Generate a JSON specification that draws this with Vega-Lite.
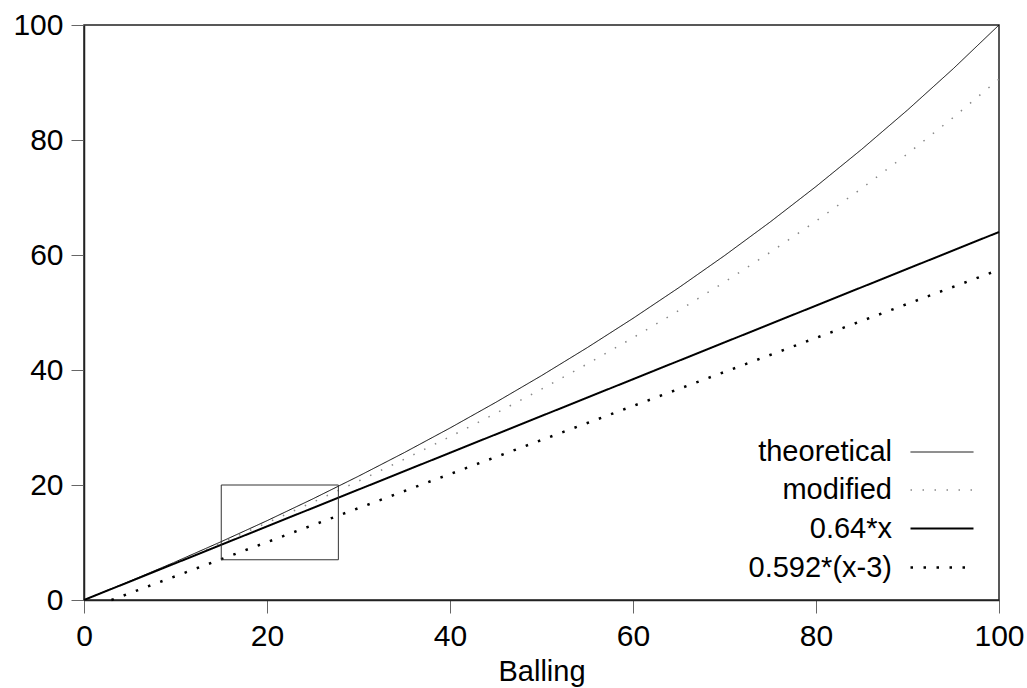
{
  "$schema": "https://vega.github.io/schema/vega-lite/v6.json",
  "width": 915,
  "height": 575,
  "autosize": "none",
  "padding": {"left": 84, "top": 25, "right": 28, "bottom": 88},
  "config": {
    "font": "Liberation Sans",
    "view": {"stroke": "#222", "strokeWidth": 1.5},
    "axis": {
      "labelFontSize": 30, "labelColor": "#000", "titleFontSize": 29, "titleColor": "#000",
      "titleFontWeight": "normal", "domainColor": "#222", "domainWidth": 1.5,
      "tickColor": "#666", "tickSize": 13, "grid": false, "labelPadding": 8
    }
  },
  "layer": [
    {
      "data": {"values": [
        {"b": 0, "v": 0, "s": "theoretical"}, {"b": 5, "v": 3.26, "s": "theoretical"}, {"b": 10, "v": 6.64, "s": "theoretical"},
        {"b": 15, "v": 10.15, "s": "theoretical"}, {"b": 20, "v": 13.79, "s": "theoretical"}, {"b": 25, "v": 17.58, "s": "theoretical"},
        {"b": 30, "v": 21.53, "s": "theoretical"}, {"b": 35, "v": 25.63, "s": "theoretical"}, {"b": 40, "v": 29.91, "s": "theoretical"},
        {"b": 45, "v": 34.37, "s": "theoretical"}, {"b": 50, "v": 39.02, "s": "theoretical"}, {"b": 55, "v": 43.89, "s": "theoretical"},
        {"b": 60, "v": 48.98, "s": "theoretical"}, {"b": 65, "v": 54.31, "s": "theoretical"}, {"b": 70, "v": 59.89, "s": "theoretical"},
        {"b": 75, "v": 65.75, "s": "theoretical"}, {"b": 80, "v": 71.91, "s": "theoretical"}, {"b": 85, "v": 78.39, "s": "theoretical"},
        {"b": 90, "v": 85.21, "s": "theoretical"}, {"b": 95, "v": 92.4, "s": "theoretical"}, {"b": 100, "v": 100, "s": "theoretical"},
        {"b": 0, "v": 0, "s": "modified"}, {"b": 5, "v": 3.24, "s": "modified"}, {"b": 10, "v": 6.55, "s": "modified"},
        {"b": 15, "v": 9.94, "s": "modified"}, {"b": 20, "v": 13.42, "s": "modified"}, {"b": 25, "v": 16.99, "s": "modified"},
        {"b": 30, "v": 20.68, "s": "modified"}, {"b": 35, "v": 24.48, "s": "modified"}, {"b": 40, "v": 28.4, "s": "modified"},
        {"b": 45, "v": 32.46, "s": "modified"}, {"b": 50, "v": 36.67, "s": "modified"}, {"b": 55, "v": 41.05, "s": "modified"},
        {"b": 60, "v": 45.6, "s": "modified"}, {"b": 65, "v": 50.34, "s": "modified"}, {"b": 70, "v": 55.29, "s": "modified"},
        {"b": 75, "v": 60.47, "s": "modified"}, {"b": 80, "v": 65.89, "s": "modified"}, {"b": 85, "v": 71.59, "s": "modified"},
        {"b": 90, "v": 77.59, "s": "modified"}, {"b": 95, "v": 83.92, "s": "modified"}, {"b": 100, "v": 90.6, "s": "modified"},
        {"b": 0, "v": 0, "s": "0.64*x"}, {"b": 10, "v": 6.4, "s": "0.64*x"}, {"b": 20, "v": 12.8, "s": "0.64*x"},
        {"b": 30, "v": 19.2, "s": "0.64*x"}, {"b": 40, "v": 25.6, "s": "0.64*x"}, {"b": 50, "v": 32, "s": "0.64*x"},
        {"b": 60, "v": 38.4, "s": "0.64*x"}, {"b": 70, "v": 44.8, "s": "0.64*x"}, {"b": 80, "v": 51.2, "s": "0.64*x"},
        {"b": 90, "v": 57.6, "s": "0.64*x"}, {"b": 100, "v": 64, "s": "0.64*x"},
        {"b": 3, "v": 0, "s": "0.592*(x-3)"}, {"b": 10, "v": 4.14, "s": "0.592*(x-3)"}, {"b": 20, "v": 10.06, "s": "0.592*(x-3)"},
        {"b": 30, "v": 15.98, "s": "0.592*(x-3)"}, {"b": 40, "v": 21.9, "s": "0.592*(x-3)"}, {"b": 50, "v": 27.82, "s": "0.592*(x-3)"},
        {"b": 60, "v": 33.74, "s": "0.592*(x-3)"}, {"b": 70, "v": 39.66, "s": "0.592*(x-3)"}, {"b": 80, "v": 45.58, "s": "0.592*(x-3)"},
        {"b": 90, "v": 51.5, "s": "0.592*(x-3)"}, {"b": 100, "v": 57.42, "s": "0.592*(x-3)"}
      ]},
      "mark": {"type": "line", "strokeCap": "butt"},
      "encoding": {
        "x": {"field": "b", "type": "quantitative", "scale": {"domain": [0, 100], "nice": false},
              "axis": {"title": "Balling", "values": [0, 20, 40, 60, 80, 100], "labelFlush": false, "titlePadding": 6}},
        "y": {"field": "v", "type": "quantitative", "scale": {"domain": [0, 100], "nice": false},
              "axis": {"title": null, "values": [0, 20, 40, 60, 80, 100], "labelFlush": false}},
        "color": {"field": "s", "type": "nominal",
                  "scale": {"domain": ["theoretical", "modified", "0.64*x", "0.592*(x-3)"], "range": ["#000000", "#888888", "#000000", "#000000"]},
                  "legend": {"title": null, "orient": "none", "legendX": 745, "legendY": 412,
                             "symbolType": "M -2.172,0 L 2.172,0",
                             "symbolSize": 841, "symbolOffset": 97, "labelOffset": -66, "labelFontSize": 29, "labelAlign": "right",
                             "rowPadding": 7.5, "padding": 0, "labelLimit": 400,
                             "labelColor": "#000"}},
        "strokeDash": {"field": "s", "type": "nominal",
                       "scale": {"domain": ["theoretical", "modified", "0.64*x", "0.592*(x-3)"], "range": [[1, 0], [1.5, 10.5], [1, 0], [2.5, 10.5]]}},
        "strokeWidth": {"field": "s", "type": "nominal",
                        "scale": {"domain": ["theoretical", "modified", "0.64*x", "0.592*(x-3)"], "range": [1, 2.5]}}
      }
    },
    {
      "data": {"values": [{"x1": 15, "x2": 27.8, "y1": 7, "y2": 20}]},
      "mark": {"type": "rect", "fill": null, "stroke": "#333333", "strokeWidth": 1},
      "encoding": {
        "x": {"field": "x1", "type": "quantitative"}, "x2": {"field": "x2"},
        "y": {"field": "y1", "type": "quantitative"}, "y2": {"field": "y2"}
      }
    }
  ]
}
